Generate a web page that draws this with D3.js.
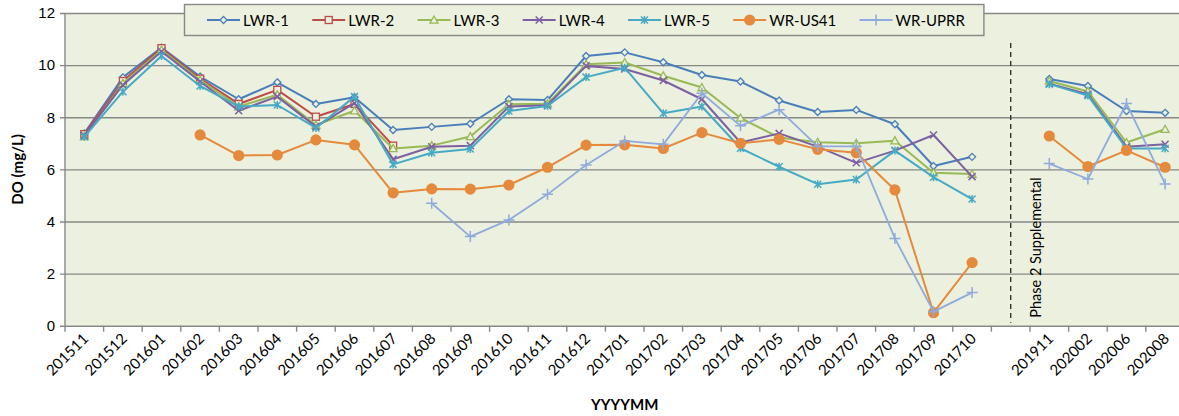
<!DOCTYPE html>
<html>
<head>
<meta charset="utf-8">
<script src="https://d3js.org/d3.v7.min.js"></script>
<style>
  body { margin: 0; background: #fff; }
  svg { font-family: Lato, "Open Sans", sans-serif; display: block; }
</style>
</head>
<body>
<script>

    var margin = {top: 13, left: 65};
    var plotWidth = 1119.4, plotHeight = 312.7;

    // Sampling months ("" is the empty slot before the phase 2 samples)
    var months = ["201511", "201512", "201601", "201602", "201603", "201604", "201605", "201606",
        "201607", "201608", "201609", "201610", "201611", "201612", "201701", "201702",
        "201703", "201704", "201705", "201706", "201707", "201708", "201709", "201710",
        "", "201911", "202002", "202006", "202008"];

    var seriesNames = ["LWR-1", "LWR-2", "LWR-3", "LWR-4", "LWR-5", "WR-US41", "WR-UPRR"];

    var lwr1 = [7.38, 9.53, 10.67, 9.56, 8.69, 9.34, 8.51, 8.77, 7.51, 7.63, 7.75, 8.69, 8.66, 10.35, 10.49, 10.11,
        9.62, 9.37, 8.64, 8.20, 8.28, 7.73, 6.13, 6.48, null, 9.47, 9.20, 8.24, 8.17];
    var lwr2 = [7.35, 9.39, 10.65, 9.48, 8.51, 9.05, 8.02, 8.51, 6.91, null, null, null, null, null, null, null,
        null, null, null, null, null, null, null, null, null, null, null, null, null];
    var lwr3 = [7.26, 9.30, 10.58, 9.43, 8.41, 8.86, 7.70, 8.25, 6.80, 6.91, 7.26, 8.50, 8.52, 10.03, 10.10, 9.59,
        9.14, 7.97, 7.22, 7.04, 7.00, 7.10, 5.87, 5.82, null, 9.39, 8.99, 7.03, 7.54];
    var lwr4 = [7.30, 9.24, 10.52, 9.37, 8.25, 8.79, 7.64, 8.54, 6.39, 6.87, 6.91, 8.41, 8.46, 9.97, 9.85, 9.41,
        8.69, 7.03, 7.38, 6.87, 6.25, 6.72, 7.32, 5.72, null, 9.29, 8.88, 6.87, 6.96];
    var lwr5 = [7.25, 8.98, 10.35, 9.20, 8.41, 8.47, 7.59, 8.79, 6.19, 6.64, 6.78, 8.24, 8.43, 9.54, 9.90, 8.15,
        8.41, 6.81, 6.10, 5.43, 5.61, 6.72, 5.70, 4.86, null, 9.27, 8.83, 6.80, 6.80];
    var us41 = [null, null, null, 7.32, 6.53, 6.55, 7.13, 6.94, 5.10, 5.25, 5.24, 5.40, 6.08, 6.93, 6.94, 6.80,
        7.41, 7.00, 7.15, 6.77, 6.64, 5.21, 0.50, 2.42, null, 7.28, 6.11, 6.73, 6.08];
    var uprr = [null, null, null, null, null, null, null, null, null, 4.70, 3.42, 4.06, 5.04, 6.17, 7.09, 6.96,
        8.92, 7.67, 8.29, 6.88, 6.88, 3.35, 0.54, 1.27, null, 6.22, 5.63, 8.53, 5.44];

    var yTicks = [0, 2, 4, 6, 8, 10, 12];

    var colors = ["#4a7ebb", "#be4b48", "#98b954", "#7d60a0", "#46aac5", "#e5893c", "#8faadc"];
    var markers = ["diamond", "square", "triangle", "cross", "star", "circle", "plus"];

    var allValues = [lwr1, lwr2, lwr3, lwr4, lwr5, us41, uprr];
    var series = seriesNames.map(function(name, i) {
        return {name: name, color: colors[i], marker: markers[i],
            values: allValues[i].map(function(v, j) { return {month: months[j], value: v}; })};
    });

    var svg = d3.select("body")
    .append("svg")
    .attr("width", 1179)
    .attr("height", 416);

    var g = svg.append("g")
    .attr("transform", "translate(" + margin.left + "," + margin.top + ")");

    // Scales
    var x = d3.scaleBand()
    .domain(months)
    .range([0, plotWidth])
    .padding(0);

    var y = d3.scaleLinear()
    .domain([0, 12])
    .range([plotHeight, 0]);

    // Plot background
    g.append("rect")
    .attr("width", plotWidth)
    .attr("height", plotHeight)
    .attr("fill", "#ebf1de");

    // Gridlines + y axis
    var yAxis = d3.axisLeft(y)
    .tickValues(yTicks)
    .tickSize(-plotWidth)
    .tickPadding(10)
    .tickFormat(function(d) { return d; });

    var yg = g.append("g").call(yAxis);
    yg.select(".domain").remove();
    yg.selectAll(".tick line").attr("stroke", "#878787").attr("stroke-width", 1.4).attr("x1", -5);
    yg.selectAll(".tick text").attr("font-size", 15).attr("fill", "#000");

    g.append("line")
    .attr("x1", 0).attr("x2", 0)
    .attr("y1", 0).attr("y2", plotHeight)
    .attr("stroke", "#878787").attr("stroke-width", 1.4);

    // x axis: ticks on the category boundaries, labels at the centres
    var xg = g.append("g").attr("transform", "translate(0," + plotHeight + ")");

    xg.selectAll("line.tk")
    .data(d3.range(months.length + 1))
    .enter().append("line")
    .attr("class", "tk")
    .attr("x1", function(i) { return i * x.step(); })
    .attr("x2", function(i) { return i * x.step(); })
    .attr("y1", 0).attr("y2", 6)
    .attr("stroke", "#878787").attr("stroke-width", 1.4);

    xg.selectAll("text.lbl")
    .data(months)
    .enter().append("text")
    .attr("class", "lbl")
    .attr("font-size", 15)
    .attr("text-anchor", "end")
    .attr("transform", function(d) {
        return "translate(" + (x(d) + x.bandwidth() / 2 + 5) + ",14) rotate(-45)";
    })
    .text(function(d) { return d; });

    // Divider for the phase 2 samples
    g.append("line")
    .attr("x1", x("") + x.bandwidth() / 2)
    .attr("x2", x("") + x.bandwidth() / 2)
    .attr("y1", 30).attr("y2", plotHeight - 3)
    .attr("stroke", "#333").attr("stroke-width", 1.4)
    .attr("stroke-dasharray", "5,4");

    g.append("text")
    .attr("transform", "translate(" + (x("201911") + 11) + "," + (plotHeight - 8) + ") rotate(-90)")
    .attr("font-size", 14.5)
    .text("Phase 2 Supplemental");

    // Axis titles
    svg.append("text")
    .attr("x", margin.left + plotWidth / 2)
    .attr("y", 410)
    .attr("text-anchor", "middle")
    .attr("font-size", 15)
    .attr("font-weight", "bold")
    .text("YYYYMM");

    svg.append("text")
    .attr("transform", "translate(23," + (margin.top + plotHeight / 2) + ") rotate(-90)")
    .attr("text-anchor", "middle")
    .attr("font-size", 15)
    .attr("font-weight", "bold")
    .text("DO (mg/L)");

    // Marker shapes
    function drawMarker(sel, type, color) {
        if (type === "diamond") {
            sel.append("path").attr("d", "M0,-3.5L3.5,0L0,3.5L-3.5,0Z")
            .attr("fill", "#ebf1de").attr("stroke", color).attr("stroke-width", 1.3);
        } else if (type === "square") {
            sel.append("rect").attr("x", -3.5).attr("y", -3.5).attr("width", 7).attr("height", 7)
            .attr("fill", "#ebf1de").attr("stroke", color).attr("stroke-width", 1.3);
        } else if (type === "triangle") {
            sel.append("path").attr("d", "M0,-4L4,3.2L-4,3.2Z")
            .attr("fill", "#ebf1de").attr("stroke", color).attr("stroke-width", 1.3);
        } else if (type === "cross") {
            sel.append("path").attr("d", "M-3.5,-3.5L3.5,3.5M-3.5,3.5L3.5,-3.5")
            .attr("stroke", color).attr("stroke-width", 1.5);
        } else if (type === "star") {
            sel.append("path").attr("d", "M-3.5,-3.5L3.5,3.5M-3.5,3.5L3.5,-3.5M0,-4L0,4")
            .attr("stroke", color).attr("stroke-width", 1.5);
        } else if (type === "circle") {
            sel.append("circle").attr("r", 5.6).attr("fill", color);
        } else if (type === "plus") {
            sel.append("path").attr("d", "M-5.5,0L5.5,0M0,-5.5L0,5.5")
            .attr("stroke", color).attr("stroke-width", 1.5);
        }
    }

    // Lines
    var line = d3.line()
    .defined(function(d) { return d.value !== null; })
    .x(function(d) { return x(d.month) + x.bandwidth() / 2; })
    .y(function(d) { return y(d.value); });

    var groups = g.selectAll("g.series")
    .data(series)
    .enter().append("g")
    .attr("class", "series");

    groups.append("path")
    .attr("d", function(d) { return line(d.values); })
    .attr("fill", "none")
    .attr("stroke", function(d) { return d.color; })
    .attr("stroke-width", function(d) { return d.marker === "plus" ? 1.8 : 2; })
    .attr("stroke-linejoin", "round");

    groups.each(function(s) {
        d3.select(this).selectAll("g.pt")
        .data(s.values.filter(function(d) { return d.value !== null; }))
        .enter().append("g")
        .attr("class", "pt")
        .attr("transform", function(d) {
            return "translate(" + (x(d.month) + x.bandwidth() / 2) + "," + y(d.value) + ")";
        })
        .each(function() { drawMarker(d3.select(this), s.marker, s.color); });
    });

    // Legend
    var legend = svg.append("g");
    var box = legend.append("rect")
    .attr("x", 184.5).attr("y", 4.5)
    .attr("height", 31)
    .attr("fill", "#ebf1de")
    .attr("stroke", "#878787").attr("stroke-width", 1.4);

    var lx = 207;
    series.forEach(function(s) {
        var item = legend.append("g").attr("transform", "translate(" + lx + ",20)");
        item.append("line").attr("x1", 0).attr("x2", 33)
        .attr("stroke", s.color).attr("stroke-width", 2);
        var m = item.append("g").attr("transform", "translate(16.5,0)");
        drawMarker(m, s.marker, s.color);
        var t = item.append("text")
        .attr("x", 36).attr("y", 5.5)
        .attr("font-size", 15)
        .text(s.name);
        lx += 36 + t.node().getComputedTextLength() + 23.3;
    });
    box.attr("width", lx - 23.3 + 19 - 184.5);

</script>
</body>
</html>
